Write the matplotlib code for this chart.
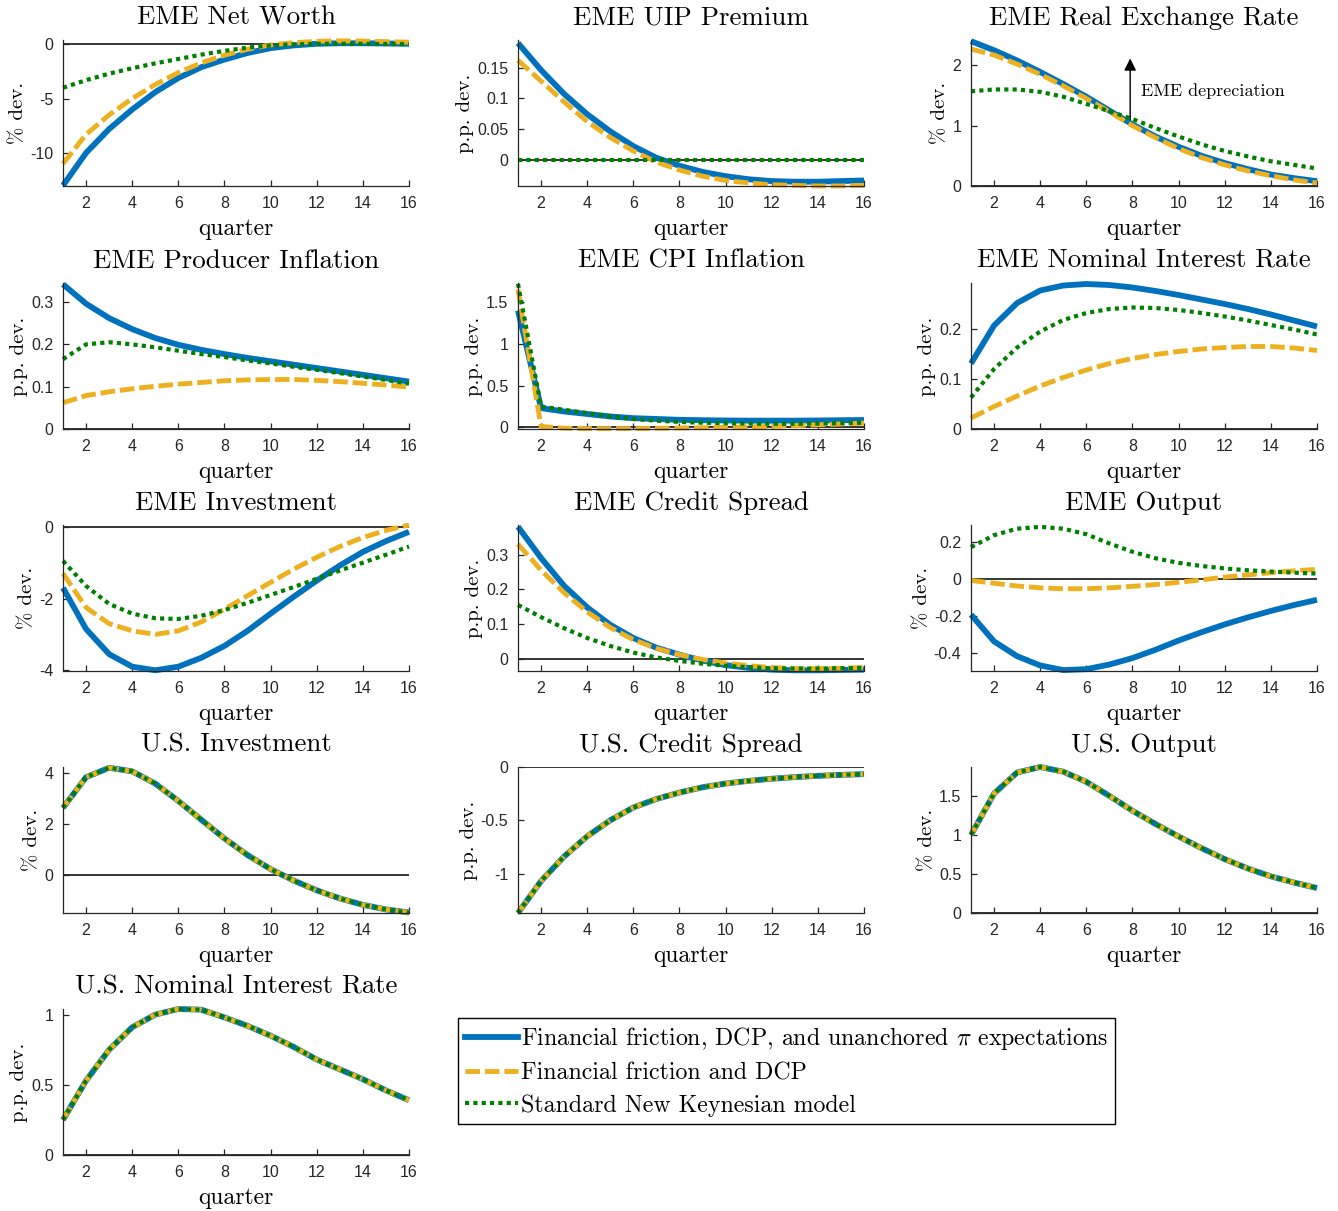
import matplotlib
matplotlib.use("Agg")
import matplotlib.pyplot as plt
from matplotlib.ticker import FuncFormatter
from matplotlib.lines import Line2D

plt.rcParams["font.family"] = "Liberation Sans"
plt.rcParams["mathtext.fontset"] = "cm"
plt.rcParams["axes.unicode_minus"] = False

quarters = list(range(1, 17))

model_names = [
    r"Financial friction, DCP, and unanchored $\pi$ expectations",
    "Financial friction and DCP",
    "Standard New Keynesian model",
]

# EME Net Worth
nw_full = [-13.0, -10.0, -7.8, -6.0, -4.4, -3.1, -2.1, -1.4, -0.8, -0.35, -0.1, 0.05, 0.1, 0.1, 0.08, 0.05]
nw_dcp = [-11.0, -8.3, -6.5, -5.0, -3.7, -2.6, -1.7, -1.0, -0.45, -0.05, 0.15, 0.28, 0.32, 0.3, 0.25, 0.2]
nw_nk = [-4.0, -3.3, -2.7, -2.2, -1.75, -1.35, -0.95, -0.6, -0.3, -0.1, 0.0, 0.05, 0.05, 0.05, 0.03, 0.02]

# EME UIP Premium
uip_full = [0.19, 0.146, 0.107, 0.074, 0.046, 0.022, 0.003, -0.01, -0.02, -0.027, -0.032, -0.035, -0.036, -0.036, -0.035, -0.034]
uip_dcp = [0.162, 0.128, 0.094, 0.062, 0.036, 0.014, -0.004, -0.017, -0.027, -0.034, -0.038, -0.041, -0.042, -0.043, -0.043, -0.042]
uip_nk = [0.0] * 16

# EME Real Exchange Rate
rer_full = [2.40, 2.25, 2.08, 1.89, 1.69, 1.48, 1.25, 1.02, 0.82, 0.65, 0.50, 0.38, 0.28, 0.19, 0.13, 0.08]
rer_dcp = [2.27, 2.17, 2.02, 1.85, 1.66, 1.45, 1.23, 1.0, 0.8, 0.62, 0.47, 0.35, 0.25, 0.17, 0.1, 0.05]
rer_nk = [1.57, 1.60, 1.60, 1.56, 1.48, 1.36, 1.24, 1.11, 0.96, 0.82, 0.69, 0.58, 0.49, 0.41, 0.35, 0.29]

# EME Producer Inflation
ppi_full = [0.342, 0.296, 0.262, 0.236, 0.215, 0.199, 0.187, 0.177, 0.168, 0.160, 0.152, 0.144, 0.136, 0.128, 0.12, 0.112]
ppi_dcp = [0.062, 0.079, 0.088, 0.095, 0.101, 0.106, 0.11, 0.114, 0.116, 0.117, 0.117, 0.115, 0.112, 0.108, 0.104, 0.099]
ppi_nk = [0.165, 0.2, 0.205, 0.2, 0.193, 0.185, 0.177, 0.17, 0.162, 0.155, 0.147, 0.14, 0.132, 0.124, 0.116, 0.107]

# EME CPI Inflation
cpi_full = [1.40, 0.23, 0.19, 0.16, 0.13, 0.11, 0.10, 0.09, 0.085, 0.082, 0.08, 0.08, 0.08, 0.082, 0.085, 0.088]
cpi_dcp = [1.65, 0.01, -0.01, -0.015, -0.015, -0.015, -0.012, -0.008, -0.004, 0.0, 0.005, 0.012, 0.02, 0.03, 0.04, 0.05]
cpi_nk = [1.72, 0.25, 0.21, 0.17, 0.13, 0.10, 0.08, 0.065, 0.055, 0.05, 0.045, 0.042, 0.042, 0.045, 0.05, 0.055]

# EME Nominal Interest Rate
nir_full = [0.131, 0.207, 0.252, 0.277, 0.287, 0.290, 0.288, 0.283, 0.276, 0.268, 0.259, 0.250, 0.240, 0.229, 0.217, 0.205]
nir_dcp = [0.022, 0.045, 0.066, 0.086, 0.103, 0.118, 0.131, 0.141, 0.149, 0.155, 0.160, 0.163, 0.165, 0.165, 0.162, 0.157]
nir_nk = [0.063, 0.12, 0.163, 0.195, 0.218, 0.232, 0.240, 0.243, 0.242, 0.238, 0.232, 0.225, 0.217, 0.208, 0.199, 0.189]

# EME Investment
inv_full = [-1.7, -2.85, -3.55, -3.9, -4.0, -3.9, -3.65, -3.32, -2.9, -2.42, -1.95, -1.5, -1.08, -0.7, -0.4, -0.14]
inv_dcp = [-1.3, -2.25, -2.7, -2.9, -3.0, -2.9, -2.65, -2.3, -1.92, -1.55, -1.18, -0.85, -0.55, -0.3, -0.1, 0.05]
inv_nk = [-0.95, -1.65, -2.15, -2.42, -2.55, -2.57, -2.48, -2.32, -2.12, -1.9, -1.68, -1.45, -1.22, -1.0, -0.78, -0.55]

# EME Credit Spread
cs_full = [0.38, 0.29, 0.21, 0.148, 0.098, 0.06, 0.032, 0.012, -0.005, -0.018, -0.026, -0.031, -0.033, -0.033, -0.032, -0.031]
cs_dcp = [0.33, 0.255, 0.19, 0.135, 0.09, 0.055, 0.03, 0.012, -0.002, -0.012, -0.02, -0.025, -0.028, -0.028, -0.027, -0.025]
cs_nk = [0.155, 0.12, 0.088, 0.06, 0.037, 0.018, 0.004, -0.006, -0.014, -0.02, -0.024, -0.027, -0.028, -0.028, -0.027, -0.026]

# EME Output
out_full = [-0.195, -0.34, -0.42, -0.47, -0.495, -0.49, -0.465, -0.43, -0.385, -0.335, -0.29, -0.248, -0.21, -0.175, -0.143, -0.115]
out_dcp = [-0.01, -0.025, -0.04, -0.05, -0.055, -0.055, -0.05, -0.042, -0.032, -0.02, -0.007, 0.008, 0.02, 0.032, 0.042, 0.05]
out_nk = [0.17, 0.235, 0.27, 0.28, 0.27, 0.24, 0.19, 0.145, 0.11, 0.085, 0.068, 0.055, 0.045, 0.038, 0.032, 0.027]

# U.S. responses (identical across the three models)
us_inv = [2.65, 3.85, 4.22, 4.08, 3.6, 2.92, 2.18, 1.45, 0.8, 0.25, -0.2, -0.58, -0.9, -1.15, -1.33, -1.45]
us_cs = [-1.37, -1.07, -0.84, -0.65, -0.5, -0.38, -0.3, -0.24, -0.19, -0.155, -0.13, -0.11, -0.095, -0.083, -0.074, -0.067]
us_out = [1.0, 1.53, 1.8, 1.87, 1.81, 1.68, 1.5, 1.31, 1.14, 0.98, 0.83, 0.69, 0.57, 0.47, 0.39, 0.32]
us_nir = [0.25, 0.53, 0.75, 0.91, 1.0, 1.04, 1.035, 0.98, 0.92, 0.85, 0.77, 0.68, 0.61, 0.54, 0.46, 0.39]

panels = [
    ("EME Net Worth", "% dev.", (nw_full, nw_dcp, nw_nk), (-13.05, 0.4), [-10, -5, 0]),
    ("EME UIP Premium", "p.p. dev.", (uip_full, uip_dcp, uip_nk), (-0.043, 0.195), [0, 0.05, 0.1, 0.15]),
    ("EME Real Exchange Rate", "% dev.", (rer_full, rer_dcp, rer_nk), (0, 2.42), [0, 1, 2]),
    ("EME Producer Inflation", "p.p. dev.", (ppi_full, ppi_dcp, ppi_nk), (0, 0.345), [0, 0.1, 0.2, 0.3]),
    ("EME CPI Inflation", "p.p. dev.", (cpi_full, cpi_dcp, cpi_nk), (-0.02, 1.73), [0, 0.5, 1, 1.5]),
    ("EME Nominal Interest Rate", "p.p. dev.", (nir_full, nir_dcp, nir_nk), (0, 0.292), [0, 0.1, 0.2]),
    ("EME Investment", "% dev.", (inv_full, inv_dcp, inv_nk), (-4.02, 0.05), [-4, -2, 0]),
    ("EME Credit Spread", "p.p. dev.", (cs_full, cs_dcp, cs_nk), (-0.035, 0.385), [0, 0.1, 0.2, 0.3]),
    ("EME Output", "% dev.", (out_full, out_dcp, out_nk), (-0.5, 0.29), [-0.4, -0.2, 0, 0.2]),
    ("U.S. Investment", "% dev.", (us_inv, us_inv, us_inv), (-1.47, 4.25), [0, 2, 4]),
    ("U.S. Credit Spread", "p.p. dev.", (us_cs, us_cs, us_cs), (-1.37, 0.0), [-1, -0.5, 0]),
    ("U.S. Output", "% dev.", (us_out, us_out, us_out), (0, 1.87), [0, 0.5, 1, 1.5]),
    ("U.S. Nominal Interest Rate", "p.p. dev.", (us_nir, us_nir, us_nir), (0, 1.04), [0, 0.5, 1]),
]

colors = ["#0072BD", "#EDB120", "#008000"]
styles = ["-", (0, (3.0, 1.0)), (0, (1, 1))]
widths = [4.2, 3.5, 3.0]
dark = (0.15, 0.15, 0.15)
serif = "cmr10"

W, H = 1338, 1211
fig = plt.figure(figsize=(W / 100, H / 100), dpi=100)

col_left = [63, 518, 971]
row_top = [40, 283, 525, 767, 1009]
ax_w, ax_h = 346, 146

fmt = FuncFormatter(lambda v, _: "%g" % round(v, 6))

for i, (title, ylab, series, ylim, yticks) in enumerate(panels):
    r, c = divmod(i, 3)
    ax = fig.add_axes([col_left[c] / W, 1 - (row_top[r] + ax_h) / H, ax_w / W, ax_h / H])
    ax.axhline(0, color="k", lw=1.1, zorder=1.5)
    for s, col, ls, lw in zip(series, colors, styles, widths):
        ax.plot(quarters, s, color=col, linestyle=ls, lw=lw, clip_on=False,
                solid_capstyle="butt", dash_capstyle="butt")
    ax.set_xlim(1, 16)
    ax.set_ylim(*ylim)
    ax.set_xticks(range(2, 17, 2))
    ax.set_yticks(yticks)
    ax.yaxis.set_major_formatter(fmt)
    for side in ["top", "right"]:
        ax.spines[side].set_visible(False)
    for side in ["left", "bottom"]:
        ax.spines[side].set_color(dark)
        ax.spines[side].set_linewidth(0.9)
    ax.tick_params(direction="in", length=4, width=0.9, color=dark,
                   labelcolor=dark, labelsize=11.5, pad=7)
    ax.set_title(title, fontfamily=serif, fontsize=19.4, pad=11)
    ax.set_xlabel("quarter", fontfamily=serif, fontsize=17, labelpad=5)
    ax.set_ylabel(ylab, fontfamily=serif, fontsize=15, labelpad=2)

    if title == "EME Real Exchange Rate":
        ax.annotate("", xy=(7.9, 2.16), xytext=(7.9, 1.05),
                    arrowprops=dict(arrowstyle="-|>", color="k", lw=1.0,
                                    mutation_scale=18))
        ax.text(8.35, 1.58, "EME depreciation", fontfamily=serif, fontsize=13,
                va="center", ha="left")

handles = [Line2D([], [], color=col, linestyle=ls, lw=lw)
           for col, ls, lw in zip(colors, styles, widths)]
leg = fig.legend(handles, model_names, loc="upper left",
                 bbox_to_anchor=(458 / W, 1 - 1018 / H), borderaxespad=0,
                 prop={"family": serif, "size": 17.2}, handlelength=2.2,
                 handletextpad=0.12, labelspacing=0.42, borderpad=0.3,
                 fancybox=False, framealpha=1)
leg.get_frame().set_edgecolor("k")
leg.get_frame().set_linewidth(1.0)

fig.savefig("out.png", dpi=100)
